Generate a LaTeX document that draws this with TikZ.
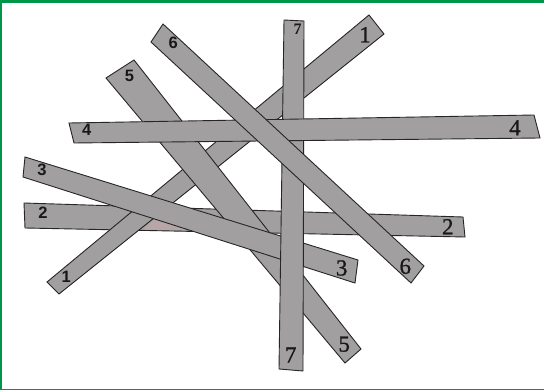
\documentclass[tikz,border=0pt]{standalone}
\usepackage{fontspec}
\setmainfont{Liberation Serif}
\newfontfamily\labsans{Liberation Sans}
\newfontfamily\labserif[FakeBold=0.9]{Liberation Serif}
\definecolor{barfill}{RGB}{161,159,160}
\definecolor{baredge}{RGB}{38,38,38}
\definecolor{framegreen}{RGB}{0,150,72}
\definecolor{pinkish}{RGB}{184,166,166}
\tikzset{
  bar/.style={fill=barfill, draw=baredge, line width=0.9pt, line join=miter},
  sanslab/.style={inner sep=0pt, font=\labsans\bfseries\fontsize{16.5}{16.5}\selectfont, text=black!90},
  seriflab/.style={inner sep=0pt, font=\labserif\fontsize{23}{23}\selectfont, text=black!90},
  seriftop/.style={inner sep=0pt, font=\bfseries\fontsize{16}{16}\selectfont, text=black!90}
}
\begin{document}
\begin{tikzpicture}[x=1pt,y=-1pt]
\useasboundingbox (0,0) rectangle (544,390);
\fill[white] (0,0) rectangle (544,390);
% frame
\fill[framegreen] (0,0) rectangle (544,3);
\fill[framegreen] (0,0) rectangle (2,390);
\fill[framegreen] (0,388.7) rectangle (544,390);
% bar 2 (bottom)
\fill[barfill] (24,203) -- (463,217) -- (465,237) -- (25,228) -- cycle;
\fill[pinkish] (142,230) -- (155,219) -- (188,230) -- cycle;
\draw[bar, fill=none] (24,203) -- (463,217) -- (465,237) -- (25,228) -- cycle;
% bar 1
\draw[bar] (47,282) -- (369,15) -- (384,34) -- (59,294) -- cycle;
% bar 5
\draw[bar] (106,78) -- (134,60) -- (361,349) -- (345,363) -- cycle;
% bar 3
\draw[bar] (25,157) -- (358,260) -- (355,283) -- (23,177) -- cycle;
% bar 7
\draw[bar] (284,20) -- (304,21) -- (303,371) -- (279,369) -- cycle;
% bar 4
\draw[bar] (69,123) -- (534,115) -- (540,138) -- (74,143) -- cycle;
% bar 6
\draw[bar] (151,42) -- (163,24) -- (424,266) -- (411,283) -- cycle;
% labels
\node[sanslab] (s1) at (66.3,276.7) {1};
\node[sanslab] (s2) at (43,213) {2};
\node[sanslab] (s3) at (42,170) {3};
\node[sanslab] (s4) at (86.7,130) {4};
\node[sanslab] (s5) at (129.5,75.8) {5};
\node[sanslab] (s6) at (173.3,43.3) {6};
\node[seriftop] (t7) at (297.7,28.8) {7};
\node[seriflab] (r1) at (365,34.7) {1};
\node[seriflab] (r4) at (515,127.8) {4};
\node[seriflab] (r2) at (447.8,226.7) {2};
\node[seriflab] (r3) at (341.7,268) {3};
\node[seriflab] (r6) at (405.3,266.3) {6};
\node[seriflab] (r5) at (344.2,344.2) {5};
\node[seriflab] (r7) at (290.7,355) {7};
\end{tikzpicture}
\end{document}
